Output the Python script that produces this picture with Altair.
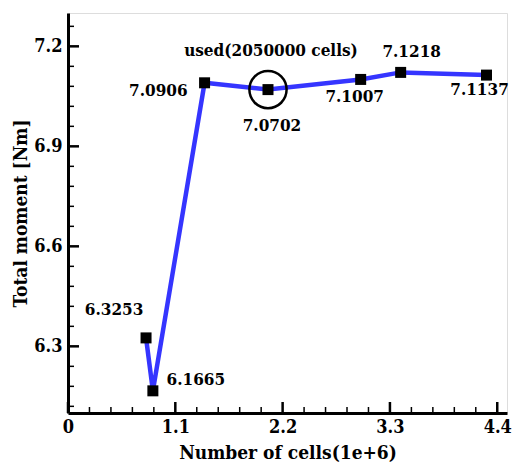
import altair as alt
import pandas as pd

cells = [0.80, 0.87, 1.40, 2.05, 3.00, 3.41, 4.29]
moment = [6.3253, 6.1665, 7.0906, 7.0702, 7.1007, 7.1218, 7.1137]
labels = ["6.3253", "6.1665", "7.0906", "7.0702", "7.1007", "7.1218", "7.1137"]

x_major = [0, 1.1, 2.2, 3.3, 4.4]
x_minor = [0.22, 0.44, 0.66, 0.88, 1.32, 1.54, 1.76, 1.98, 2.42, 2.64, 2.86,
           3.08, 3.52, 3.74, 3.96, 4.18]
y_major = [6.3, 6.6, 6.9, 7.2]
y_minor = [6.12, 6.18, 6.24, 6.36, 6.42, 6.48, 6.54, 6.66, 6.72, 6.78, 6.84,
           6.96, 7.02, 7.08, 7.14, 7.26]

used_cells = 2.05
used_moment = 7.0702
used_text = "used(2050000 cells)"

df = pd.DataFrame({"cells": cells, "moment": moment, "label": labels})

FONT = "DejaVu Serif Condensed, DejaVu Serif"
xs = alt.Scale(domain=[0, 4.5], nice=False, zero=False)
ys = alt.Scale(domain=[6.1, 7.3], nice=False, zero=False)

xax = alt.Axis(values=x_major, ticks=False, grid=False, domainWidth=3,
               domainColor="black", labelFont=FONT, labelFontSize=18,
               labelFontWeight="bold", labelColor="black", labelPadding=5,
               format=".1~f", labelFlush=False,
               title="Number of cells(1e+6)", titleFont=FONT, titleFontSize=19,
               titleFontWeight="bold", titleColor="black", titlePadding=7)
yax = alt.Axis(values=y_major, ticks=False, grid=False, domainWidth=3,
               domainColor="black", labelFont=FONT, labelFontSize=18,
               labelFontWeight="bold", labelColor="black", labelPadding=6,
               format=".1f", labelFlush=False,
               title="Total moment [Nm]", titleFont=FONT, titleFontSize=19,
               titleFontWeight="bold", titleColor="black", titlePadding=3)

base = alt.Chart(df)

line = base.mark_line(color="#3535ff", strokeWidth=4.5).encode(
    x=alt.X("cells:Q", scale=xs, axis=xax),
    y=alt.Y("moment:Q", scale=ys, axis=yax),
)
pts = base.mark_point(shape="square", filled=True, color="black", size=121,
                      opacity=1).encode(
    x=alt.X("cells:Q", scale=xs), y=alt.Y("moment:Q", scale=ys))

circle = alt.Chart(pd.DataFrame({"cells": [used_cells], "moment": [used_moment]})).mark_point(
    shape="circle", filled=False, color="black", strokeWidth=2.5, size=1385, opacity=1
).encode(x=alt.X("cells:Q", scale=xs), y=alt.Y("moment:Q", scale=ys))

offsets = [(-32, -28, "center"), (43, -11, "center"), (-17, 8, "right"),
           (4, 36, "center"), (-6, 18, "center"), (11, -20, "center"),
           (-7, 15, "center")]
texts = []
for i, (dx, dy, al) in enumerate(offsets):
    texts.append(
        alt.Chart(df.iloc[[i]]).mark_text(
            font=FONT, fontSize=17, fontWeight="bold", color="black",
            dx=dx, dy=dy, align=al, baseline="middle"
        ).encode(x=alt.X("cells:Q", scale=xs), y=alt.Y("moment:Q", scale=ys),
                 text="label:N")
    )

used = alt.Chart(pd.DataFrame({"cells": [used_cells], "moment": [used_moment],
                               "t": [used_text]})).mark_text(
    font=FONT, fontSize=17, fontWeight="bold", color="black", dx=3, dy=-39,
    align="center", baseline="middle"
).encode(x=alt.X("cells:Q", scale=xs), y=alt.Y("moment:Q", scale=ys), text="t:N")

H = 400
xmaj = alt.Chart(pd.DataFrame({"v": x_major})).mark_rule(color="black", strokeWidth=2.5).encode(
    x=alt.X("v:Q", scale=xs), y=alt.value(H), y2=alt.value(H - 11))
xmin = alt.Chart(pd.DataFrame({"v": x_minor})).mark_rule(color="black", strokeWidth=1.5).encode(
    x=alt.X("v:Q", scale=xs), y=alt.value(H), y2=alt.value(H - 6))
ymaj = alt.Chart(pd.DataFrame({"v": y_major})).mark_rule(color="black", strokeWidth=2.5).encode(
    y=alt.Y("v:Q", scale=ys), x=alt.value(0), x2=alt.value(11))
ymin = alt.Chart(pd.DataFrame({"v": y_minor})).mark_rule(color="black", strokeWidth=1.5).encode(
    y=alt.Y("v:Q", scale=ys), x=alt.value(0), x2=alt.value(6))

chart = alt.layer(line, xmaj, xmin, ymaj, ymin, circle, pts, used, *texts).properties(
    width=439, height=H, autosize="none",
    padding={"left": 68, "top": 13, "right": 5, "bottom": 54},
).configure_view(stroke="black", strokeWidth=1).configure(background="white")

chart.save("out.html", embed_options={"renderer": "svg", "actions": False})
